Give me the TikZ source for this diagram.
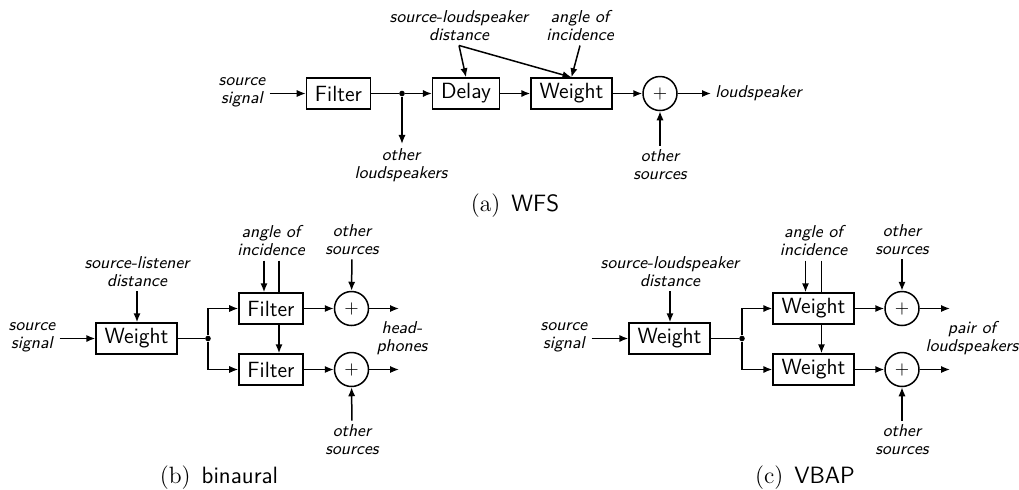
\documentclass[tikz,border=0pt]{standalone}
\usetikzlibrary{arrows.meta}
\tikzset{
  block/.style={draw,line width=0.75pt,fill=white,minimum height=15.5pt,
    inner xsep=4.25pt,inner ysep=0pt,font=\fontsize{11}{13}\selectfont\sffamily},
  sumnode/.style={circle,draw,line width=0.75pt,minimum size=17pt,
    inner sep=0pt,font=\fontsize{9.5}{11}\selectfont},
  lbl/.style={align=center,inner sep=2pt,
    font=\fontsize{8.6}{9}\selectfont\sffamily\itshape},
  junction/.style={circle,fill,inner sep=0pt,minimum size=2.8pt},
  wire/.style={line width=0.75pt},
  arrow/.style={-{Latex[length=4.5pt,width=3.6pt]},line width=0.75pt},
  subcap/.style={font=\fontsize{11.8}{14}\selectfont}
}

\begin{document}
\begin{tikzpicture}[x=0.5pt,y=-0.5pt]
  \useasboundingbox (0,0) rectangle (1019,489);

  \node[lbl] (srcA) at (242,92) {source\\signal};
  \node[block] (filtA) at (338.5,93.5) {Filter};
  \node[junction] (dotA) at (402,93.5) {};
  \node[block] (delayA) at (466,93.5) {Delay};
  \node[block] (wtA) at (571.5,93.5) {Weight};
  \node[sumnode] (sumA) at (660,93.5) {$+$};
  \node[lbl,anchor=west] (spkA) at (711,93.5) {loudspeaker};
  \node[lbl] (othSpkA) at (401,165) {other\\loudspeakers};
  \node[lbl] (othSrcA) at (660,165) {other\\sources};
  \node[lbl] (distA) at (459,26) {source-loudspeaker\\distance};
  \node[lbl] (angA) at (580,26) {angle of\\incidence};
  \node[subcap] (capA) at (515,206) {(a)\hspace{5.5pt}\textsf{WFS}};
  \draw[arrow] (srcA.east |- filtA.west) -- (filtA);
  \draw[wire] (filtA) -- (dotA);
  \draw[arrow] (dotA) -- (delayA);
  \draw[arrow] (dotA) -- (dotA |- othSpkA.north);
  \draw[arrow] (delayA) -- (wtA);
  \draw[arrow] (wtA) -- (sumA);
  \draw[arrow] (sumA) -- (spkA);
  \draw[arrow] (othSrcA) -- (sumA);
  \draw[arrow] (distA.south) -- (delayA.north);
  \draw[arrow] (distA.south) -- (wtA.north);
  \draw[arrow] (angA.south) -- (wtA.north);

  \node[lbl] (srcB) at (32,337) {source\\signal};
  \node[block] (wtB) at (136.5,338.5) {Weight};
  \node[lbl] (distB) at (137,272) {source-listener\\distance};
  \node[junction] (dotB) at (208,338.5) {};
  \node[block] (filtB1) at (271,308.5) {Filter};
  \node[block] (filtB2) at (271,369.5) {Filter};
  \node[sumnode] (sumB1) at (351.5,308.5) {$+$};
  \node[sumnode] (sumB2) at (351.5,369.5) {$+$};
  \coordinate (outB1) at (399,308.5);
  \coordinate (outB2) at (399,369.5);
  \node[lbl] (hpB) at (402,338.5) {head-\\phones};
  \node[lbl] (angB) at (271,241) {angle of\\incidence};
  \node[lbl] (othB1) at (352,240) {other\\sources};
  \node[lbl] (othB2) at (352,440) {other\\sources};
  \node[subcap] (capB) at (219,478) {(b)\hspace{5.5pt}\textsf{binaural}};
  \draw[arrow] (srcB.east |- wtB.west) -- (wtB);
  \draw[arrow] (distB) -- (distB |- wtB.north);
  \draw[wire] (wtB) -- (dotB);
  \draw[arrow] (dotB) |- (filtB1);
  \draw[arrow] (dotB) |- (filtB2);
  \draw[arrow] (filtB1) -- (sumB1);
  \draw[arrow] (filtB2) -- (sumB2);
  \draw[arrow] (sumB1) -- (outB1);
  \draw[arrow] (sumB2) -- (outB2);
  \draw[arrow] (othB1) -- (sumB1);
  \draw[arrow] (othB2) -- (sumB2);
  \draw[arrow] ([xshift=-3.5pt]angB.south) -- ([xshift=-3.5pt]filtB1.north);
  \draw[wire] ([xshift=4pt]angB.south) -- ([xshift=4pt]filtB1.north);
  \draw[arrow] ([xshift=4pt]filtB1.south) -- ([xshift=4pt]filtB2.north);

  \node[lbl] (srcC) at (564,337) {source\\signal};
  \node[block] (wtC) at (669.5,338.5) {Weight};
  \node[lbl] (distC) at (670,272) {source-loudspeaker\\distance};
  \node[junction] (dotC) at (742,338.5) {};
  \node[block] (wtC1) at (813.5,308.5) {Weight};
  \node[block] (wtC2) at (813.5,369.5) {Weight};
  \node[sumnode] (sumC1) at (902,308.5) {$+$};
  \node[sumnode] (sumC2) at (902,369.5) {$+$};
  \coordinate (outC1) at (950,308.5);
  \coordinate (outC2) at (950,369.5);
  \node[lbl] (pairC) at (972,338) {pair of\\loudspeakers};
  \node[lbl] (angC) at (813.5,241) {angle of\\incidence};
  \node[lbl] (othC1) at (902,240) {other\\sources};
  \node[lbl] (othC2) at (902,440) {other\\sources};
  \node[subcap] (capC) at (805,478) {(c)\hspace{5.5pt}\textsf{VBAP}};
  \draw[arrow] (srcC.east |- wtC.west) -- (wtC);
  \draw[arrow] (distC) -- (distC |- wtC.north);
  \draw[wire] (wtC) -- (dotC);
  \draw[arrow] (dotC) |- (wtC1);
  \draw[arrow] (dotC) |- (wtC2);
  \draw[arrow] (wtC1) -- (sumC1);
  \draw[arrow] (wtC2) -- (sumC2);
  \draw[arrow] (sumC1) -- (outC1);
  \draw[arrow] (sumC2) -- (outC2);
  \draw[arrow] (othC1) -- (sumC1);
  \draw[arrow] (othC2) -- (sumC2);
  \draw[arrow] ([xshift=-4pt]angC.south) -- ([xshift=-4pt]wtC1.north);
  \draw[wire] ([xshift=4pt]angC.south) -- ([xshift=4pt]wtC1.north);
  \draw[arrow] ([xshift=4pt]wtC1.south) -- ([xshift=4pt]wtC2.north);
\end{tikzpicture}
\end{document}
